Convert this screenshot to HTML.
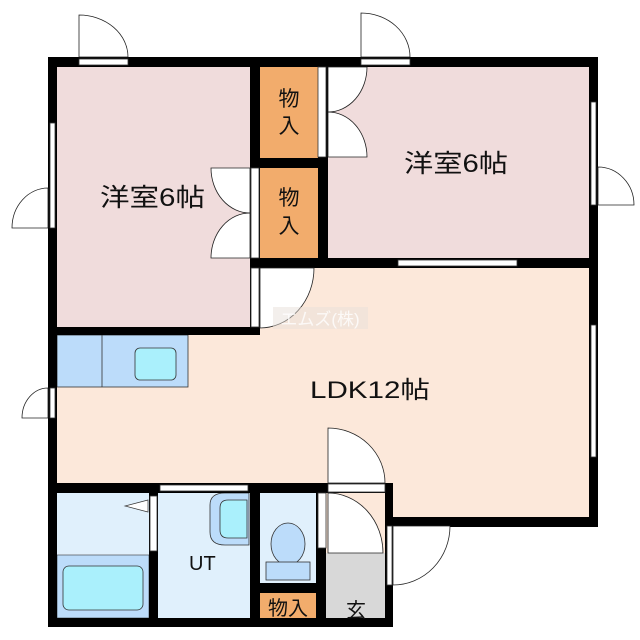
<!DOCTYPE html>
<html><head><meta charset="utf-8"><style>
html,body{margin:0;padding:0;background:#fff}
svg{display:block}
text{font-family:"Liberation Sans","Noto Sans CJK JP",sans-serif;fill:#111}
</style></head><body>
<svg width="640" height="640" viewBox="0 0 640 640" xmlns="http://www.w3.org/2000/svg">
<!-- floors -->
<rect x="57" y="268" width="532" height="215" fill="#fce8da"/>
<rect x="385" y="483" width="204" height="35" fill="#fce8da"/>
<rect x="326" y="493" width="59" height="60" fill="#fce8da"/>
<rect x="57" y="67" width="193" height="261" fill="#f0dcdc"/>
<rect x="328" y="67" width="261" height="191" fill="#f0dcdc"/>
<rect x="260" y="67" width="58" height="91" fill="#f2ac6c"/>
<rect x="260" y="168" width="58" height="90" fill="#f2ac6c"/>
<rect x="57" y="335" width="131" height="52" fill="#bcdcfa" stroke="#333" stroke-width="0.8"/>
<line x1="102" y1="335" x2="102" y2="387" stroke="#333" stroke-width="0.8"/>
<rect x="135" y="348" width="41" height="32" rx="5" fill="#aaf0fc" stroke="#333" stroke-width="0.8"/>
<!-- bath -->
<rect x="57" y="493" width="92" height="62" fill="#e0f0fc"/>
<rect x="57" y="555" width="92" height="63" fill="#bcdcfa" stroke="#333" stroke-width="0.6"/>
<rect x="63" y="566" width="80" height="44" rx="6" fill="#aaf0fc" stroke="#333" stroke-width="0.8"/>
<polygon points="148,500 125,506 148,512" fill="#fff" stroke="#333" stroke-width="0.7"/>
<rect x="158" y="493" width="92" height="125" fill="#e0f0fc"/>
<path d="M249,493 L225,493 Q210,493 210,505 L210,532 Q210,545 225,545 L249,545 Z" fill="#bcdcfa" stroke="#333" stroke-width="0.8"/>
<path d="M247,500 L228,500 Q220,500 220,508 L220,530 Q220,538 228,538 L247,538 Z" fill="#aaf0fc" stroke="#333" stroke-width="0.8"/>
<rect x="260" y="493" width="56" height="90" fill="#e0f0fc"/>
<ellipse cx="288" cy="544" rx="17" ry="21" fill="#bcdcfa" stroke="#333" stroke-width="0.8"/>
<rect x="266" y="562" width="44" height="18" fill="#bcdcfa" stroke="#333" stroke-width="0.8"/>
<rect x="260" y="593" width="56" height="25" fill="#f2ac6c"/>
<rect x="326" y="553" width="59" height="65" fill="#d8d8d8"/>
<!-- walls -->
<g fill="#000">
<rect x="48" y="57" width="550" height="10"/>
<rect x="48" y="57" width="9" height="570"/>
<rect x="589" y="57" width="9" height="470"/>
<rect x="250" y="57" width="10" height="278"/>
<rect x="318" y="57" width="10" height="211"/>
<rect x="260" y="158" width="58" height="10"/>
<rect x="250" y="258" width="348" height="10"/>
<rect x="48" y="327" width="212" height="8"/>
<rect x="48" y="483" width="345" height="10"/>
<rect x="385" y="483" width="8" height="144"/>
<rect x="385" y="517" width="213" height="10"/>
<rect x="48" y="618" width="345" height="9"/>
<rect x="149" y="493" width="9" height="125"/>
<rect x="250" y="493" width="10" height="125"/>
<rect x="316" y="493" width="10" height="125"/>
<rect x="260" y="583" width="56" height="10"/>
</g>
<!-- openings / windows -->
<g fill="#fff" stroke="#333" stroke-width="0.8">
<rect x="79" y="59" width="49" height="6"/>
<rect x="361" y="59" width="49" height="6"/>
<rect x="50" y="123" width="5" height="105"/>
<rect x="591" y="102" width="5" height="103"/>
<rect x="398" y="260" width="119" height="6"/>
<rect x="591" y="325" width="5" height="132"/>
<rect x="50" y="388" width="5" height="30"/>
<rect x="318" y="67" width="8" height="90"/>
<rect x="251" y="168" width="8" height="90"/>
<rect x="251" y="268" width="8" height="59"/>
<rect x="150" y="496" width="7" height="55"/>
<rect x="160" y="485" width="88" height="6"/>
<rect x="318" y="493" width="8" height="55"/>
<rect x="328" y="484" width="57" height="8"/>
<rect x="387" y="526" width="5" height="59"/>
</g>
<!-- door swings -->
<g fill="#fff" stroke="#222" stroke-width="0.8">
<path d="M79,57 L79,15 A49,42 0 0 1 128,57 Z"/>
<path d="M361,57 L361,13 A49,44 0 0 1 410,57 Z"/>
<path d="M48,228 L12,228 A36,40 0 0 1 48,188 Z"/>
<path d="M598,205 L634,205 A36,38 0 0 0 598,167 Z"/>
<path d="M48,418 L22,418 A26,30 0 0 1 48,388 Z"/>
<path d="M328,67 L367,67 A39,45 0 0 1 328,112 Z"/>
<path d="M328,157 L367,157 A39,45 0 0 0 328,112 Z"/>
<path d="M250,168 L211,168 A39,45 0 0 0 250,213 Z"/>
<path d="M250,258 L211,258 A39,45 0 0 1 250,213 Z"/>
<path d="M260,268 L314,268 A54,60 0 0 1 260,328 Z"/>
<path d="M328,483 L328,428 A57,55 0 0 1 385,483 Z"/>
<path d="M328,493 L328,553 L383,553 A55,60 0 0 0 328,493 Z"/>
<path d="M393,526 L450,526 A57,59 0 0 1 393,585 Z"/>
</g>
<!-- labels -->
<text x="100" y="206" font-size="25" textLength="105" lengthAdjust="spacingAndGlyphs">洋室6帖</text>
<text x="404" y="172" font-size="25" textLength="104" lengthAdjust="spacingAndGlyphs">洋室6帖</text>
<text x="310" y="398" font-size="24" textLength="120" lengthAdjust="spacingAndGlyphs">LDK12帖</text>
<text x="189" y="570" font-size="20">UT</text>
<text x="289" y="106" font-size="21" text-anchor="middle">物</text>
<text x="289" y="133" font-size="21" text-anchor="middle">入</text>
<text x="289" y="205" font-size="21" text-anchor="middle">物</text>
<text x="289" y="233" font-size="21" text-anchor="middle">入</text>
<text x="288" y="615" font-size="20" text-anchor="middle">物入</text>
<text x="356" y="617" font-size="20" text-anchor="middle">玄</text>
<rect x="273" y="307" width="95" height="22" fill="#e8e0da" opacity="0.5"/>
<text x="320" y="325" font-size="17" text-anchor="middle" style="fill:#fff" opacity="0.8">エムズ(株)</text>
</svg>
</body></html>
